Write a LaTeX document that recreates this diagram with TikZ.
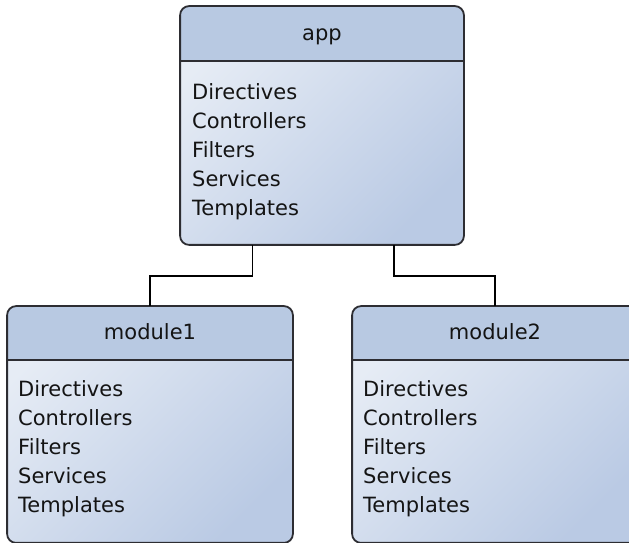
\documentclass[tikz,border=0pt]{standalone}
\usepackage{fontspec}
\setmainfont{DejaVu Sans}
\definecolor{headcol}{RGB}{184,201,226}
\definecolor{bodylight}{RGB}{230,236,245}
\definecolor{bodydark}{RGB}{186,202,228}
\definecolor{edgecol}{RGB}{45,45,50}
\definecolor{txtcol}{RGB}{20,20,20}
\tikzset{
  classbox/.style 2 args={draw=edgecol, line width=1.8pt, rounded corners=9pt,
    minimum width=#1, minimum height=#2, inner sep=0pt},
  bodyshade/.style={top color=bodylight, bottom color=bodydark, shading angle=45},
  item/.style={font=\fontsize{21}{24}\selectfont, text=txtcol, inner sep=0pt, anchor=base west},
  title/.style={font=\fontsize{21}{24}\selectfont, text=txtcol, inner sep=0pt, anchor=base},
  link/.style={draw=black, line width=1.4pt}
}
\newcommand{\umlbox}[6]{% name, cx, cy, width, height, header height
  \node[classbox={#4}{#5}] (#1) at (#2,#3) {};
  \begin{scope}
    \clip[rounded corners=9pt] (#1.south west) rectangle (#1.north east);
    \shade[bodyshade] (#1.south west) rectangle (#1.north east);
    \fill[headcol] (#1.north west) rectangle ([yshift=-#6]#1.north east);
  \end{scope}
  \draw[edgecol, line width=1.8pt] ([yshift=-#6]#1.north west) -- ([yshift=-#6]#1.north east);
  \draw[edgecol, line width=1.8pt, rounded corners=9pt] (#1.south west) rectangle (#1.north east);
}
\begin{document}
\begin{tikzpicture}[x=1pt,y=1pt]
\useasboundingbox (0,0) rectangle (629,543);
\umlbox{app}{322}{417.5}{282pt}{237pt}{55pt}
\umlbox{m1}{150}{118.5}{284pt}{235pt}{54pt}
\umlbox{m2}{495}{118.5}{284pt}{235pt}{54pt}
\node[title] (apptitle) at (322,502.5) {app};
\node[title] (m1title) at (150,203) {module1};
\node[title] (m2title) at (495,203) {module2};
\foreach \t [count=\i] in {Directives,Controllers,Filters,Services,Templates}{
  \node[item] (app-\i) at (192,{443-29*(\i-1)}) {\t};
  \node[item] (m1-\i) at (18,{146-29*(\i-1)}) {\t};
  \node[item] (m2-\i) at (363,{146-29*(\i-1)}) {\t};
}
\draw[link] ([xshift=-69.5pt]app.south) -- ++(0,-31) -| (m1.north);
\draw[link] ([xshift=72pt]app.south) -- ++(0,-31) -| (m2.north);
\end{tikzpicture}
\end{document}
